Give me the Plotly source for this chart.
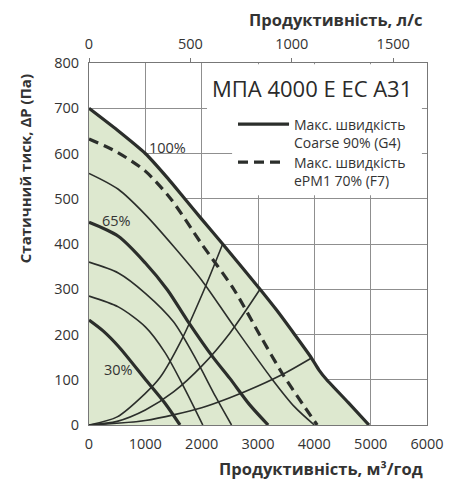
import plotly.graph_objects as go

# ---------------- data ----------------
# Max speed, Coarse 90% (G4) = outer 100% curve
flow_100 = [0, 500, 1000, 1400, 1700, 2000, 2373, 3036, 3330, 3650, 3950, 4080, 4220, 4600, 4970]
pres_100 = [700, 652, 600, 545, 500, 455, 400, 300, 254, 200, 148, 122, 100, 50, 0]
# Max speed, ePM1 70% (F7) = dashed
flow_f7 = [0, 500, 1000, 1450, 2000, 2570, 3050, 3450, 3800, 4050]
pres_f7 = [632, 603, 561, 500, 400, 300, 195, 110, 45, 0]
# intermediate speed curves
flow_s85 = [0, 520, 1000, 1500, 2000, 2550, 3240, 3650, 4000]
pres_s85 = [556, 521, 465, 395, 320, 222, 103, 40, 0]
flow_65 = [0, 520, 1000, 1390, 1740, 2200, 2500, 2850, 3180]
pres_65 = [448, 417, 358, 299, 232, 150, 103, 45, 0]
flow_s50 = [0, 520, 1000, 1500, 1900, 2250, 2530]
pres_s50 = [360, 336, 291, 228, 145, 62, 0]
flow_s40 = [0, 520, 1000, 1350, 1700, 2020]
pres_s40 = [285, 261, 217, 160, 80, 0]
flow_30 = [0, 250, 521, 1006, 1349, 1615]
pres_30 = [232, 208, 174, 100, 48, 0]
# system (network) curves
flow_sys_a = [0, 500, 1000, 1260, 1650, 2030, 2373]
pres_sys_a = [0, 18, 70, 105, 190, 295, 400]
flow_sys_b = [0, 500, 1000, 1500, 2000, 2500, 3036]
pres_sys_b = [0, 8, 33, 73, 130, 203, 300]
flow_sys_c = [0, 1000, 2000, 2500, 3000, 3500, 3950]
pres_sys_c = [0, 10, 38, 60, 86, 116, 148]

x_ticks = [0, 1000, 2000, 3000, 4000, 5000, 6000]
y_ticks = [0, 100, 200, 300, 400, 500, 600, 700, 800]
ls_ticks = [0, 500, 1000, 1500]
M3H_PER_LS = 3.6

title_text = "МПА 4000 E EC A31"
legend_1 = "Макс. швидкість<br>Coarse 90% (G4)"
legend_2 = "Макс. швидкість<br>ePM1 70% (F7)"
pct_labels = ["100%", "65%", "30%"]
pct_pos = [(1030, 614), (195, 453), (230, 122)]

# ---------------- styling ----------------
LINE = "#2b2e2b"
FILL = "#dde8cf"
GRID = "#8f8f8f"
FONT = "Open Sans"
TXT = "#333333"

fig = go.Figure()

# shaded working area
fig.add_trace(go.Scatter(x=flow_100, y=pres_100, mode="lines", fill="tozeroy",
                         fillcolor=FILL, line=dict(width=0, shape="spline", smoothing=0.5),
                         hoverinfo="skip", showlegend=False))

def add_curve(x, y, width, dash="solid", smoothing=0.8):
    fig.add_trace(go.Scatter(x=x, y=y, mode="lines",
                             line=dict(color=LINE, width=width, dash=dash,
                                       shape="spline", smoothing=smoothing),
                             hoverinfo="skip", showlegend=False))

for fx, py in [(flow_sys_a, pres_sys_a), (flow_sys_b, pres_sys_b), (flow_sys_c, pres_sys_c)]:
    add_curve(fx, py, 1.6)
for fx, py in [(flow_s85, pres_s85), (flow_s50, pres_s50), (flow_s40, pres_s40)]:
    add_curve(fx, py, 1.6)
for fx, py in [(flow_65, pres_65), (flow_30, pres_30)]:
    add_curve(fx, py, 3.2)
add_curve(flow_f7, pres_f7, 3.2, dash="10px,6px")
add_curve(flow_100, pres_100, 3.2, smoothing=0.5)

# empty trace so the top (l/s) axis is drawn
fig.add_trace(go.Scatter(x=[], y=[], xaxis="x2", yaxis="y", showlegend=False))

shapes = [
    # white box of title / legend covering the grid
    dict(type="rect", xref="x", yref="y", x0=2095, x1=5910, y0=650, y1=797,
         fillcolor="white", line=dict(width=0), layer="between"),
    dict(type="rect", xref="x", yref="y", x0=2540, x1=5910, y0=508, y1=651,
         fillcolor="white", line=dict(width=0), layer="between"),
    # legend samples
    dict(type="line", xref="x", yref="y", x0=2645, x1=3551, y0=665, y1=665,
         line=dict(color=LINE, width=3.2), layer="above"),
    dict(type="line", xref="x", yref="y", x0=2645, x1=3426, y0=581, y1=581,
         line=dict(color=LINE, width=3.2, dash="10px,6px"), layer="above"),
]

annotations = [
    dict(x=3960, y=745, xref="x", yref="y", text=title_text, showarrow=False,
         font=dict(family=FONT, size=22, color="#2a2a2a"), xanchor="center", yanchor="middle"),
    dict(x=3604, y=645, xref="x", yref="y", text=legend_1, showarrow=False,
         font=dict(family=FONT, size=14, color=TXT), xanchor="left", yanchor="middle", align="left"),
    dict(x=3604, y=560, xref="x", yref="y", text=legend_2, showarrow=False,
         font=dict(family=FONT, size=14, color=TXT), xanchor="left", yanchor="middle", align="left"),
    # axis titles
    dict(x=0.994, y=1.119, xref="paper", yref="paper", text="<b>Продуктивність, л/с</b>",
         showarrow=False, font=dict(family=FONT, size=16.5, color=TXT), xanchor="right", yanchor="middle"),
    dict(x=0.994, y=-0.1215, xref="paper", yref="paper", text="<b>Продуктивність, м³/год</b>",
         showarrow=False, font=dict(family=FONT, size=16.5, color=TXT), xanchor="right", yanchor="middle"),
    dict(x=-0.189, y=0.707, xref="paper", yref="paper", text="<b>Статичний тиск, ΔP (Па)</b>",
         showarrow=False, textangle=-90, font=dict(family=FONT, size=15, color=TXT),
         xanchor="center", yanchor="middle"),
]
for txt, (px, py) in zip(pct_labels, pct_pos):
    annotations.append(dict(x=px, y=py, xref="x", yref="y", text=txt, showarrow=False,
                            font=dict(family=FONT, size=14.5, color=TXT),
                            xanchor="left", yanchor="middle"))

fig.update_layout(
    template="none",
    width=450, height=485,
    margin=dict(l=89, r=23, t=63, b=60, pad=0, autoexpand=False),
    paper_bgcolor="white", plot_bgcolor="white",
    font=dict(family=FONT, color=TXT, size=14),
    showlegend=False,
    shapes=shapes, annotations=annotations,
    xaxis=dict(range=[0, 6000], tickvals=x_ticks, showgrid=True, gridcolor=GRID, gridwidth=1,
               showline=True, linecolor="#777777", linewidth=1.2, mirror=True, automargin=False,
               ticks="", ticklabelstandoff=5, zeroline=False,
               tickfont=dict(family=FONT, size=14.5, color=TXT)),
    yaxis=dict(range=[0, 800], tickvals=y_ticks, showgrid=True, gridcolor=GRID, gridwidth=1,
               showline=True, linecolor="#777777", linewidth=1.2, mirror=True, automargin=False,
               ticks="", ticklabelstandoff=6, zeroline=False,
               tickfont=dict(family=FONT, size=14.5, color=TXT)),
    xaxis2=dict(range=[0, 6000 / M3H_PER_LS], tickvals=ls_ticks, overlaying="x", side="top",
                anchor="y", showgrid=False, showline=False, zeroline=False, automargin=False,
                ticks="outside", ticklen=4, tickcolor="#777777", ticklabelstandoff=3,
                tickfont=dict(family=FONT, size=14.5, color=TXT)),
)

fig.write_html("out.html", config={"displayModeBar": False},
               post_script="document.body.style.margin='0';document.body.style.overflow='hidden';")
